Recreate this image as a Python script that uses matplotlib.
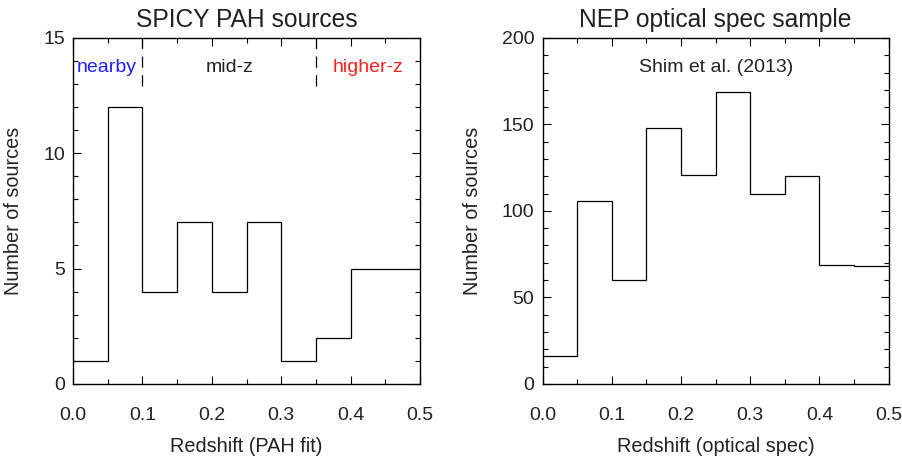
# two redshift histograms side by side

import matplotlib
matplotlib.use('Agg')
import matplotlib.pyplot as plt
from matplotlib.ticker import MultipleLocator

plt.rcParams['font.family'] = ['Liberation Sans', 'DejaVu Sans']

# bin edges shared by both panels
bin_edges = [0.0, 0.05, 0.1, 0.15, 0.2, 0.25, 0.3, 0.35, 0.4, 0.45, 0.5]

# counts per bin
spicy_counts = [1, 12, 4, 7, 4, 7, 1, 2, 5, 5]
nep_counts = [16, 106, 60, 148, 121, 169, 110, 120, 69, 68]

# region labels on left panel
region_names = ['nearby', 'mid-z', 'higher-z']
region_x = [0.048, 0.225, 0.425]
region_colors = ['#2020ff', '#222222', '#ff2020']
region_bounds = [0.1, 0.35]

text_col = '#222222'

fig = plt.figure(figsize=(9.03, 4.63), dpi=100)
ax1 = fig.add_axes([0.081, 0.171, 0.384, 0.747])
ax2 = fig.add_axes([0.601, 0.171, 0.383, 0.747])


def style_axis(ax, ymax, ymajor, yminor, ylab_x):
    ax.set_xlim(0, 0.5)
    ax.set_ylim(0, ymax)
    ax.xaxis.set_major_locator(MultipleLocator(0.1))
    ax.xaxis.set_minor_locator(MultipleLocator(0.05))
    ax.yaxis.set_major_locator(MultipleLocator(ymajor))
    ax.yaxis.set_minor_locator(MultipleLocator(yminor))
    ax.xaxis.set_major_formatter(plt.FormatStrFormatter('%.1f'))
    ax.tick_params(which='both', direction='in', top=True, right=True,
                   colors='black', labelcolor=text_col, width=0.8)
    ax.tick_params(which='major', length=6, labelsize=14)
    ax.tick_params(which='minor', length=3.5)
    ax.tick_params(axis='x', which='major', pad=17)
    ax.tick_params(axis='y', which='major', pad=6)
    for s in ax.spines.values():
        s.set_linewidth(1.0)
    ax.set_ylabel('Number of sources', fontsize=14.3, color=text_col)
    ax.yaxis.set_label_coords(ylab_x, 0.5)


# left panel
ax1.stairs(spicy_counts, bin_edges, baseline=None, color='black', lw=0.9)
style_axis(ax1, 15, 5, 1, -0.145)
ax1.set_xlabel('Redshift (PAH fit)', fontsize=14.3, color=text_col, labelpad=9)
ax1.set_title('SPICY PAH sources', fontsize=17.7, color=text_col, pad=8)
for xb in region_bounds:
    ax1.plot([xb, xb], [12.9, 15], color='black', lw=0.9, dashes=(9, 6))
for name, xc, col in zip(region_names, region_x, region_colors):
    ax1.text(xc, 13.7, name, color=col, fontsize=14, ha='center', va='center')

# right panel
ax2.stairs(nep_counts, bin_edges, baseline=None, color='black', lw=0.9)
style_axis(ax2, 200, 50, 10, -0.176)
ax2.set_xlabel('Redshift (optical spec)', fontsize=14.3, color=text_col, labelpad=9)
ax2.set_title('NEP optical spec sample', fontsize=17.7, color=text_col, pad=8)
ax2.text(0.25, 183, 'Shim et al. (2013)', color=text_col, fontsize=14,
         ha='center', va='center')

fig.savefig('out.png', dpi=100)
plt.close(fig)
